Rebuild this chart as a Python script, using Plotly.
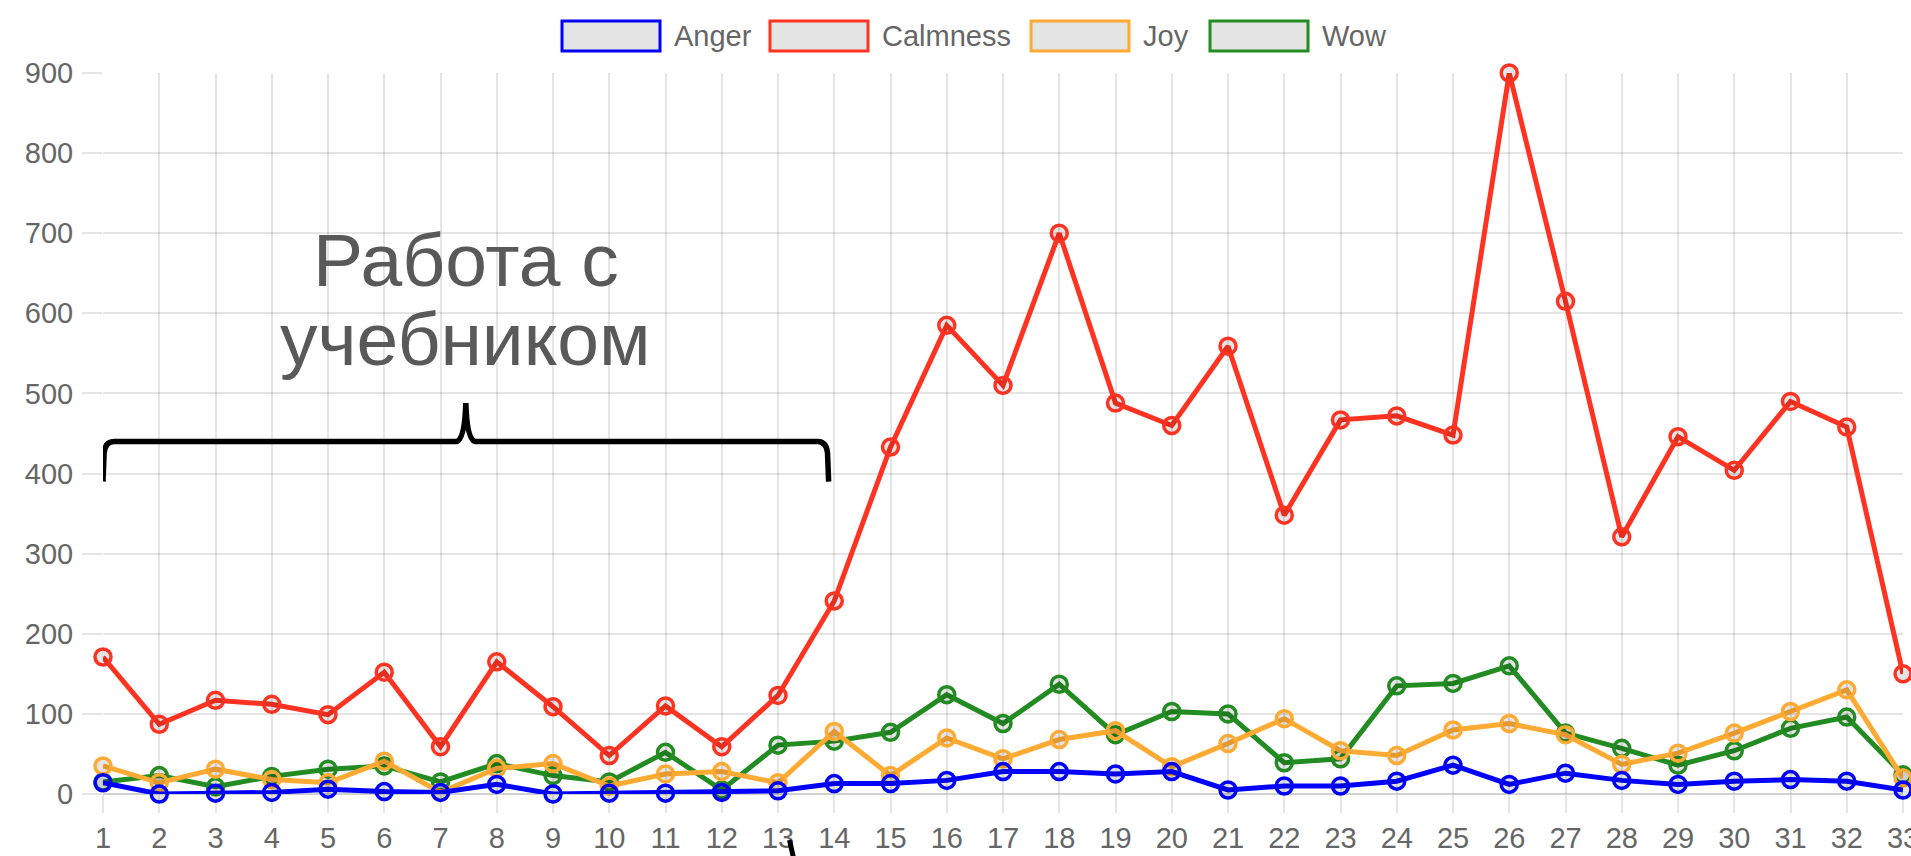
import plotly.graph_objects as go

# Session numbers along the x axis
sessions = list(range(1, 34))
tick_labels = [str(s) for s in sessions]

# Emotion counts per session
anger = [14, 0, 1, 2, 6, 3, 2, 12, 0, 1, 1, 2, 4, 13, 13, 17, 28, 28, 25, 28, 5,
         10, 10, 16, 36, 12, 26, 17, 12, 16, 18, 16, 5]
calmness = [171, 87, 117, 112, 99, 152, 59, 165, 109, 48, 110, 59, 123, 241, 433,
            585, 510, 700, 488, 460, 559, 348, 467, 472, 448, 900, 615, 321, 446,
            404, 490, 458, 150]
joy = [35, 14, 31, 18, 14, 41, 2, 32, 38, 10, 25, 28, 14, 78, 23, 70, 44, 68, 79,
       34, 63, 94, 54, 48, 80, 88, 74, 37, 51, 76, 103, 130, 20]
wow = [15, 23, 9, 22, 31, 35, 15, 38, 23, 15, 52, 5, 61, 66, 77, 124, 88, 137, 74,
       103, 100, 39, 44, 135, 138, 160, 76, 57, 36, 54, 82, 96, 24]

series_names = ["Anger", "Calmness", "Joy", "Wow"]
series_values = [anger, calmness, joy, wow]
series_colors = ["#0000ff", "#ff3322", "#ffaa33", "#228b22"]

# Figure geometry (pixels)
W, H = 1911, 856
ML, MR, MT, MB = 103, 8, 73, 62
PW, PH = W - ML - MR, H - MT - MB

FONT = "Liberation Sans, Arial, Helvetica, sans-serif"
GRID = "rgba(0,0,0,0.1)"
TICK_SIZE = 29


def px_x(px):
    return (px - ML) / PW


def px_y(py):
    return (H - MB - py) / PH


fig = go.Figure()

# First series drawn on top, so add in reverse order
for name, vals, col in reversed(list(zip(series_names, series_values, series_colors))):
    fig.add_trace(go.Scatter(
        x=sessions, y=vals, name=name, mode="lines+markers",
        line=dict(color=col, width=5),
        marker=dict(size=16, color="rgba(0,0,0,0.1)", line=dict(color=col, width=3.5)),
        cliponaxis=False, showlegend=False,
    ))

# Legend drawn as outlined boxes with labels
legend_x = [562, 770, 1031, 1210]
box_w, box_top, box_bot, text_gap = 98, 21, 51, 12
shapes = []
annotations = []
for name, col, x0 in zip(series_names, series_colors, legend_x):
    shapes.append(dict(
        type="rect", xref="paper", yref="paper",
        x0=px_x(x0), x1=px_x(x0 + box_w), y0=px_y(box_bot), y1=px_y(box_top),
        line=dict(color=col, width=3), fillcolor="#e4e4e4", layer="above",
    ))
    annotations.append(dict(
        xref="paper", yref="paper", x=px_x(x0 + box_w + text_gap),
        y=px_y((box_top + box_bot) / 2), text=name, showarrow=False,
        xanchor="left", yanchor="middle",
        font=dict(family=FONT, size=29, color="#666666"),
    ))

# Curly brace spanning the textbook sessions
b_x0, b_x1, b_mid = 1.0, 13.9, 7.45
b_base, b_level, b_tip = 390, 440, 488
brace_path = (
    f"M {b_x0},{b_base} "
    f"L {b_x0 + 0.02},{b_level - 14} "
    f"Q {b_x0 + 0.04},{b_level} {b_x0 + 0.2},{b_level} "
    f"L {b_mid - 0.16},{b_level} "
    f"Q {b_mid - 0.02},{b_level + 4} {b_mid},{b_tip} "
    f"Q {b_mid + 0.02},{b_level + 4} {b_mid + 0.16},{b_level} "
    f"L {b_x1 - 0.2},{b_level} "
    f"Q {b_x1 - 0.04},{b_level} {b_x1 - 0.02},{b_level - 14} "
    f"L {b_x1},{b_base}"
)
shapes.append(dict(type="path", xref="x", yref="y", path=brace_path,
                   line=dict(color="black", width=5.5), layer="above"))

# Edge of a second brace below the axis
shapes.append(dict(type="line", xref="paper", yref="paper",
                   x0=px_x(789.5), y0=px_y(840), x1=px_x(793.5), y1=px_y(858),
                   line=dict(color="black", width=5), layer="above"))

# Section caption
caption_lines = ["Работа с", "учебником"]
caption_y = [667, 568]
for txt, yy in zip(caption_lines, caption_y):
    annotations.append(dict(
        xref="x", yref="y", x=b_mid, y=yy, text=txt, showarrow=False,
        xanchor="center", yanchor="middle",
        font=dict(family=FONT, size=75, color="#595959"),
    ))

fig.update_layout(
    width=W, height=H,
    margin=dict(l=ML, r=MR, t=MT, b=MB, pad=0, autoexpand=False),
    paper_bgcolor="white", plot_bgcolor="white",
    shapes=shapes, annotations=annotations,
    showlegend=False,
    font=dict(family=FONT, size=TICK_SIZE, color="#666666"),
)
fig.update_xaxes(
    range=[1, 33], tickmode="array", tickvals=sessions, ticktext=tick_labels,
    showgrid=True, gridcolor=GRID, gridwidth=2, zeroline=False, showline=False,
    ticks="outside", ticklen=18, tickwidth=2, tickcolor=GRID,
    ticklabelstandoff=0, ticklabeloverflow="allow", automargin=False,
    tickfont=dict(family=FONT, size=TICK_SIZE, color="#666666"),
)
fig.update_yaxes(
    range=[0, 900], dtick=100, tick0=0,
    showgrid=True, gridcolor=GRID, gridwidth=2,
    zeroline=True, zerolinecolor="rgba(0,0,0,0.18)", zerolinewidth=2,
    showline=False,
    ticks="outside", ticklen=20, tickwidth=2, tickcolor=GRID,
    ticklabelstandoff=3, automargin=False,
    tickfont=dict(family=FONT, size=TICK_SIZE, color="#666666"),
)

fig.write_html("out.html")
